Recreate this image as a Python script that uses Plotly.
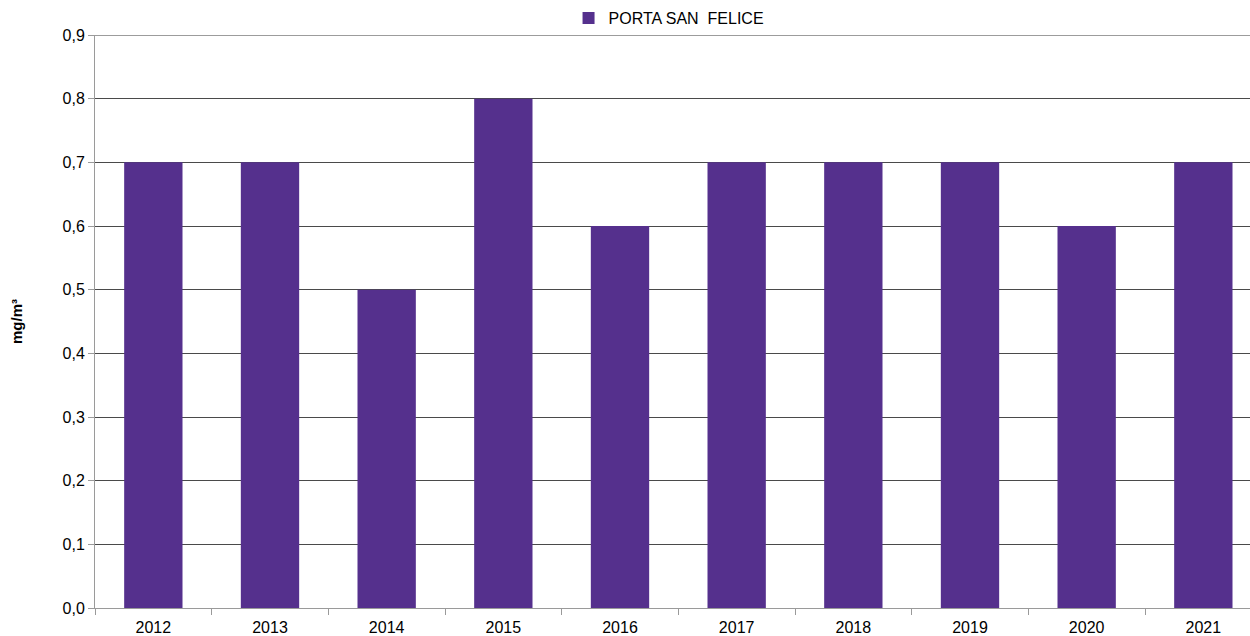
import plotly.graph_objects as go

years = ["2012", "2013", "2014", "2015", "2016", "2017", "2018", "2019", "2020", "2021"]
values = [0.7, 0.7, 0.5, 0.8, 0.6, 0.7, 0.7, 0.7, 0.6, 0.7]
series_name = "PORTA SAN  FELICE"

positions = list(range(len(years)))
boundaries = [p - 0.5 for p in positions] + [positions[-1] + 0.5]

fig = go.Figure(
    go.Bar(
        x=positions,
        y=values,
        name=series_name,
        width=0.5,
        marker=dict(color="#55308D", line=dict(width=0)),
        showlegend=True,
    )
)

# dark line along the top of the value range
fig.add_shape(
    type="line", xref="paper", yref="y", x0=0, x1=1, y0=0.9, y1=0.9,
    line=dict(color="#3a3a3a", width=1), layer="below",
)

fig.update_layout(
    width=1250,
    height=636,
    margin=dict(l=95, r=0, t=35, b=26),
    paper_bgcolor="white",
    plot_bgcolor="white",
    separators=",.",
    font=dict(family="Liberation Sans, Arial, sans-serif", size=16, color="#000000"),
    legend=dict(
        orientation="h",
        x=0.41,
        xanchor="left",
        y=1.0,
        yanchor="bottom",
        font=dict(size=16),
        itemwidth=30,
        bgcolor="rgba(0,0,0,0)",
    ),
)

fig.update_xaxes(
    range=[-0.5, 9.4],
    tickvals=positions,
    ticktext=years,
    showgrid=False,
    zeroline=False,
    showline=True,
    linecolor="#9a9a9a",
    linewidth=1,
    ticks="",
    ticklabelstandoff=5,
    tickfont=dict(size=16),
    minor=dict(
        tickvals=boundaries,
        ticks="outside",
        ticklen=6,
        tickcolor="#9a9a9a",
        showgrid=False,
    ),
)

fig.update_yaxes(
    range=[0, 0.9],
    dtick=0.1,
    tickformat=".1f",
    showgrid=True,
    gridcolor="#4a4a4a",
    gridwidth=1,
    zeroline=False,
    showline=True,
    linecolor="#9a9a9a",
    linewidth=1,
    ticks="outside",
    ticklen=6,
    tickcolor="#9a9a9a",
    tickfont=dict(size=16),
    title=dict(text="<b>mg/m³</b>", font=dict(size=15), standoff=36),
)

fig.write_html("out.html")
